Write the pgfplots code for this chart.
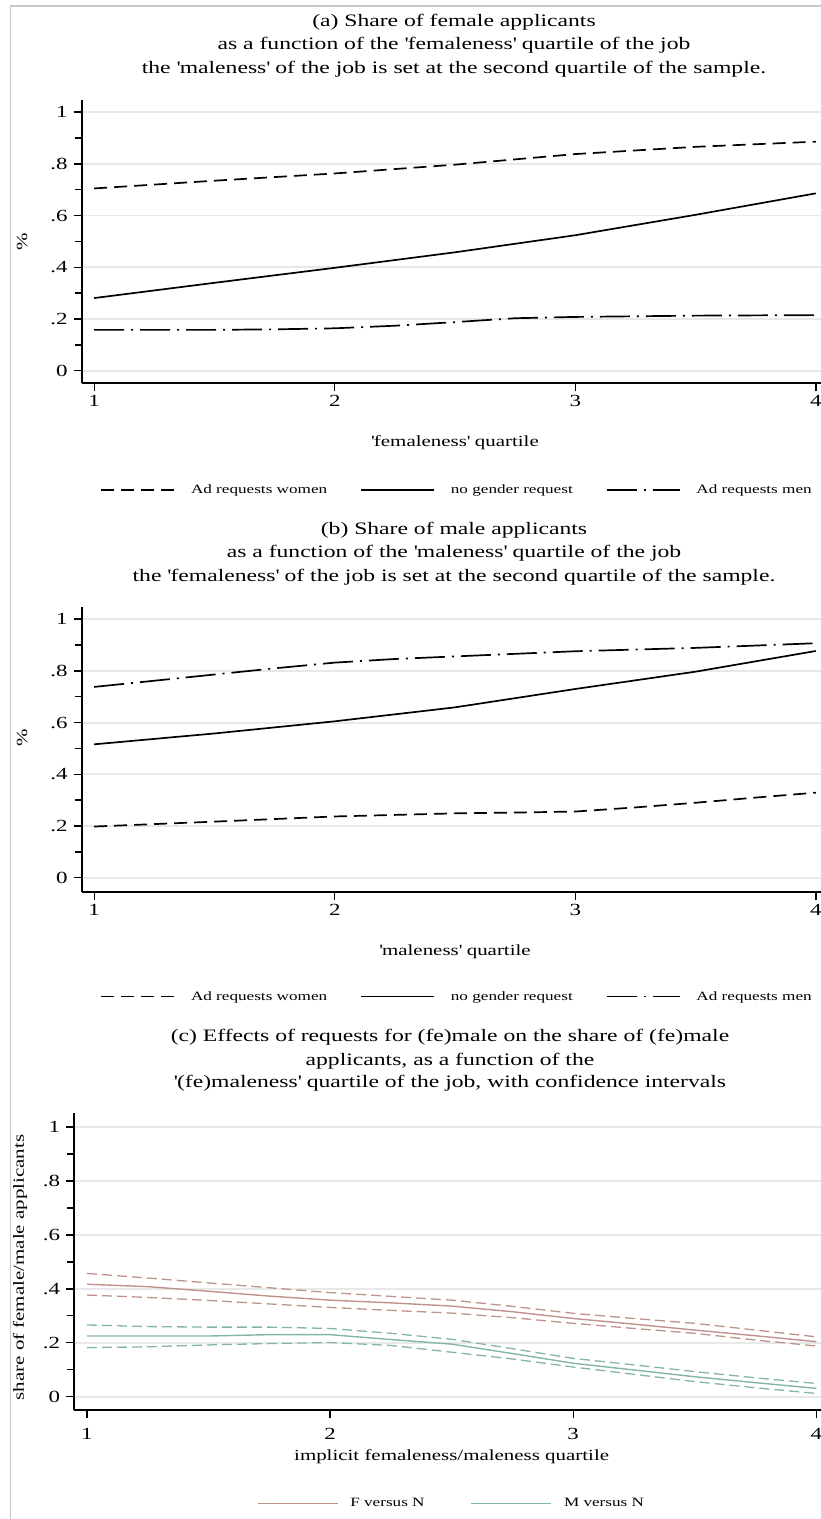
\documentclass[border=0pt]{standalone}
\usepackage{fontspec}
\setmainfont{Liberation Serif}[FakeStretch=1.35]
\usepackage{pgfplots}
\pgfplotsset{compat=1.18}
\newcommand{\q}{\textquotesingle}
\definecolor{fcol}{RGB}{192,146,140}
\definecolor{mcol}{RGB}{132,182,166}
\definecolor{gridc}{RGB}{232,232,232}
\definecolor{framec}{RGB}{200,200,200}
\pgfplotsset{
 stata/.style={
  scale only axis,
  axis x line*=bottom, axis y line*=left,
  axis line style={line width=1.8pt},
  every tick/.style={black, line width=1.4pt},
  tick align=outside,
  major tick length=8pt, minor tick length=7pt,
  xtick={1,2,3,4},
  xticklabels={1,2,3,4},
  ytick={0,0.2,0.4,0.6,0.8,1},
  yticklabels={0,.2,.4,.6,.8,1},
  minor ytick={0.1,0.3,0.5,0.7,0.9},
  /pgf/number format/assume math mode=true,
  ymajorgrids, major grid style={gridc, line width=1.8pt},
  xmin=0.948, xmax=4.052,
  ticklabel style={font=\fontsize{17}{17}\selectfont, inner sep=0pt},
  xticklabel style={anchor=north},
  yticklabel style={anchor=east},
  xticklabel shift=4pt, yticklabel shift=6pt,
  clip=false,
  legend cell align=left,
  legend style={draw=none, fill=none, legend columns=3, font=\fontsize{12.7}{14}\selectfont, anchor=center,
    /tikz/every odd column/.append style={column sep=14pt},
    /tikz/every even column/.append style={column sep=31pt}},
  legend image code/.code={\draw[#1] (0pt,0pt) -- (73pt,0pt);},
  xlabel style={font=\fontsize{15.5}{16}\selectfont, anchor=center},
  ylabel style={font=\fontsize{15.5}{16}\selectfont, anchor=center},
 },
 wom/.style={black, line width=1.7pt, dash pattern=on 13pt off 7pt},
 nog/.style={black, line width=1.7pt},
 men/.style={black, line width=1.7pt, dash pattern=on 30pt off 7pt on 2pt off 7pt},
}
\begin{document}
\begin{tikzpicture}
\useasboundingbox (0pt,0pt) rectangle (821pt,1519pt);
\clip (0pt,0pt) rectangle (821pt,1519pt);
\fill[white] (0pt,0pt) rectangle (821pt,1519pt);
\draw[framec, line width=1.2pt] (10.5pt,-10pt) -- (10.5pt,1513pt) -- (900pt,1513pt);

% titles
\begin{scope}[every node/.style={font=\fontsize{17.5}{18}\selectfont, anchor=base}]
\node at (454pt,1492pt) {(a) Share of female applicants};
\node at (454pt,1469pt) {as a function of the \q femaleness\q{} quartile of the job};
\node at (454pt,1445pt) {the \q maleness\q{} of the job is set at the second quartile of the sample.};
\node at (454pt,984pt) {(b) Share of male applicants};
\node at (454pt,961pt) {as a function of the \q maleness\q{} quartile of the job};
\node at (454pt,937pt) {the \q femaleness\q{} of the job is set at the second quartile of the sample.};
\node at (450pt,477pt) {(c) Effects of requests for (fe)male on the share of (fe)male};
\node at (450pt,453pt) {applicants, as a function of the};
\node at (450pt,431pt) {\q(fe)maleness\q{} quartile of the job, with confidence intervals};
\end{scope}

% panel (a)
\begin{axis}[stata, at={(81.7pt,1135.7pt)}, anchor=south west,
  width=746.6pt, height=283.3pt, ymin=-0.0487, ymax=1.0472,
  xlabel={\q femaleness\q{} quartile}, ylabel={\%},
  xlabel style={at={(axis description cs:0.5,-0.2107)}},
  ylabel style={at={(axis description cs:-0.080,0.5)}},
  legend style={at={(axis description cs:0.5027,-0.3766)}}]
\addplot[wom] coordinates {(1,0.705) (1.5,0.735) (2,0.763) (2.5,0.797) (3,0.838) (3.5,0.866) (4,0.886)};
\addlegendentry{Ad requests women}
\addplot[nog] coordinates {(1,0.281) (1.5,0.340) (2,0.398) (2.5,0.458) (3,0.524) (3.5,0.603) (4,0.686)};
\addlegendentry{no gender request}
\addplot[men] coordinates {(1,0.158) (1.5,0.158) (1.75,0.160) (2,0.164) (2.25,0.174) (2.5,0.188) (2.75,0.203) (3,0.208) (3.5,0.213) (4,0.215)};
\addlegendentry{Ad requests men}
\end{axis}

% panel (b)
\begin{axis}[stata, at={(81.7pt,627.3pt)}, anchor=south west,
  width=746.6pt, height=284.4pt, ymin=-0.054, ymax=1.046,
  xlabel={\q maleness\q{} quartile}, ylabel={\%},
  xlabel style={at={(axis description cs:0.5,-0.21)}},
  ylabel style={at={(axis description cs:-0.080,0.54)}},
  legend style={at={(axis description cs:0.5027,-0.369)}}]
\addplot[wom] coordinates {(1,0.198) (1.5,0.217) (2,0.237) (2.5,0.249) (2.75,0.252) (3,0.256) (3.25,0.272) (3.5,0.290) (3.75,0.310) (4,0.329)};
\addlegendentry{Ad requests women}
\addplot[nog] coordinates {(1,0.516) (1.5,0.558) (2,0.605) (2.5,0.659) (3,0.730) (3.5,0.797) (4,0.877)};
\addlegendentry{no gender request}
\addplot[men] coordinates {(1,0.738) (1.25,0.762) (1.5,0.786) (1.75,0.810) (2,0.832) (2.25,0.846) (2.5,0.856) (3,0.876) (3.5,0.889) (4,0.907)};
\addlegendentry{Ad requests men}
\end{axis}

% panel (c)
\begin{axis}[stata, at={(74.3pt,109pt)}, anchor=south west,
  width=754.7pt, height=296.7pt, ymin=-0.0493, ymax=1.0508,
  xticklabel shift=10.5pt,
  xlabel={implicit femaleness/maleness quartile}, ylabel={share of female/male applicants},
  xlabel style={at={(axis description cs:0.5,-0.157)}},
  ylabel style={at={(axis description cs:-0.072,0.48)}},
  legend image code/.code={\draw[#1] (0pt,0pt) -- (80pt,0pt);},
  legend style={at={(axis description cs:0.4998,-0.3145)},
    /tikz/every odd column/.append style={column sep=10pt},
    /tikz/every even column/.append style={column sep=44pt}}]
\addplot[fcol, line width=1.4pt] coordinates {(1,0.417) (1.25,0.408) (1.5,0.391) (1.75,0.373) (2,0.358) (2.25,0.348) (2.5,0.336) (2.75,0.315) (3,0.290) (3.25,0.269) (3.5,0.247) (3.75,0.226) (4,0.204)};
\addlegendentry{F versus N}
\addplot[mcol, line width=1.4pt] coordinates {(1,0.225) (1.25,0.225) (1.5,0.225) (1.75,0.230) (2,0.230) (2.25,0.212) (2.5,0.195) (2.75,0.160) (3,0.124) (3.25,0.099) (3.5,0.074) (3.75,0.052) (4,0.031)};
\addlegendentry{M versus N}
\addplot[fcol, line width=1.3pt, dash pattern=on 10pt off 5pt, forget plot] coordinates {(1,0.457) (1.25,0.440) (1.5,0.422) (1.75,0.404) (2,0.386) (2.25,0.372) (2.5,0.358) (2.75,0.335) (3,0.309) (3.25,0.290) (3.5,0.272) (3.75,0.247) (4,0.222)};
\addplot[fcol, line width=1.3pt, dash pattern=on 10pt off 5pt, forget plot] coordinates {(1,0.377) (1.25,0.368) (1.5,0.357) (1.75,0.344) (2,0.331) (2.25,0.320) (2.5,0.310) (2.75,0.293) (3,0.272) (3.25,0.253) (3.5,0.235) (3.75,0.210) (4,0.188)};
\addplot[mcol, line width=1.3pt, dash pattern=on 10pt off 5pt, forget plot] coordinates {(1,0.266) (1.25,0.260) (1.5,0.258) (1.75,0.258) (2,0.253) (2.25,0.235) (2.5,0.213) (2.75,0.178) (3,0.142) (3.25,0.118) (3.5,0.093) (3.75,0.070) (4,0.049)};
\addplot[mcol, line width=1.3pt, dash pattern=on 10pt off 5pt, forget plot] coordinates {(1,0.182) (1.25,0.185) (1.5,0.192) (1.75,0.197) (2,0.201) (2.25,0.190) (2.5,0.165) (2.75,0.140) (3,0.110) (3.25,0.083) (3.5,0.056) (3.75,0.033) (4,0.012)};
\end{axis}
\end{tikzpicture}
\end{document}
